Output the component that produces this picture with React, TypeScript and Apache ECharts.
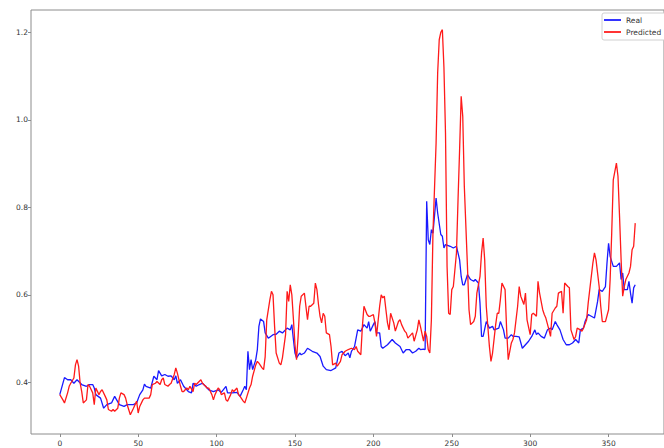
import React, { useEffect, useRef } from "react";
import * as echarts from "echarts";

const realIdx = [0,3,5,7,9,11,14,17,19,21,22,23,26,28,30,33,35,38,41,43,47,49,51,53,54,55,58,60,62,63,65,67,69,71,73,74,75,77,79,82,84,85,87,89,91,93,95,98,101,103,106,107,110,113,115,117,118,119,120,121,122,123,125,126,127,128,130,131,133,136,138,140,142,145,147,148,149,150,151,153,154,156,158,161,164,166,168,170,173,176,178,180,182,184,185,186,188,190,192,194,196,197,198,200,201,202,204,205,206,209,212,214,217,219,221,223,225,227,229,230,232,233,234,235,236,237,238,240,241,243,244,245,246,249,251,253,255,256,257,258,260,262,264,265,267,268,269,270,272,274,276,277,280,281,283,284,286,288,289,291,293,295,297,299,301,303,304,305,307,309,311,313,314,316,317,319,320,321,323,325,327,329,331,332,334,335,337,339,341,343,344,346,348,349,350,351,353,355,357,358,359,360,362,363,364,365,366,367];
const realVal = [0.372,0.411,0.406,0.406,0.398,0.406,0.395,0.391,0.395,0.395,0.387,0.372,0.364,0.341,0.349,0.353,0.368,0.349,0.345,0.349,0.349,0.353,0.372,0.383,0.396,0.391,0.387,0.414,0.406,0.427,0.415,0.418,0.414,0.415,0.406,0.415,0.398,0.406,0.391,0.379,0.376,0.398,0.391,0.395,0.398,0.391,0.383,0.379,0.383,0.377,0.391,0.376,0.376,0.377,0.368,0.383,0.391,0.383,0.471,0.429,0.452,0.429,0.452,0.475,0.528,0.545,0.539,0.513,0.501,0.509,0.510,0.517,0.513,0.524,0.520,0.532,0.498,0.467,0.456,0.467,0.463,0.467,0.478,0.471,0.467,0.459,0.437,0.429,0.427,0.433,0.467,0.471,0.461,0.467,0.456,0.471,0.482,0.520,0.517,0.532,0.524,0.539,0.517,0.532,0.539,0.513,0.513,0.482,0.478,0.486,0.498,0.490,0.482,0.467,0.475,0.475,0.467,0.471,0.478,0.475,0.476,0.475,0.814,0.726,0.715,0.749,0.741,0.821,0.787,0.738,0.734,0.707,0.715,0.711,0.707,0.711,0.680,0.642,0.623,0.623,0.646,0.635,0.631,0.635,0.627,0.581,0.505,0.505,0.539,0.524,0.528,0.520,0.524,0.539,0.520,0.501,0.501,0.509,0.505,0.505,0.504,0.478,0.486,0.494,0.505,0.520,0.509,0.513,0.505,0.501,0.520,0.524,0.520,0.539,0.532,0.520,0.509,0.498,0.486,0.486,0.490,0.498,0.490,0.520,0.524,0.539,0.555,0.551,0.547,0.585,0.612,0.608,0.619,0.673,0.718,0.688,0.665,0.665,0.673,0.635,0.650,0.612,0.612,0.631,0.604,0.581,0.616,0.623];

const predIdx = [0,2,3,5,6,7,9,10,11,12,13,14,15,17,18,19,21,22,23,25,26,27,29,30,31,33,34,35,37,38,39,41,42,43,45,47,49,50,51,53,54,57,58,59,61,62,64,65,66,67,69,70,71,73,74,75,77,78,79,81,82,83,85,86,87,90,91,93,94,95,97,98,99,101,102,103,105,106,107,109,110,111,113,114,115,117,118,119,121,122,123,125,126,127,129,130,131,132,134,135,136,137,138,140,141,142,144,145,146,147,148,149,150,151,152,153,154,156,158,159,160,162,163,164,165,166,167,168,169,170,172,173,174,176,177,179,180,182,184,186,188,189,190,192,193,194,196,197,198,200,201,202,204,205,206,207,208,209,210,211,213,214,216,217,218,220,221,222,224,225,226,228,229,230,232,233,234,235,236,237,238,240,241,242,243,244,245,246,247,248,249,250,251,253,254,255,256,257,258,260,261,262,264,265,266,268,269,270,271,272,274,275,276,278,279,280,281,282,284,285,286,288,289,290,292,293,294,296,297,298,300,301,302,304,305,306,308,309,310,312,313,314,316,317,318,320,321,322,324,325,326,328,329,330,332,333,334,336,337,338,340,341,342,344,345,346,348,350,351,352,353,355,356,357,358,359,360,361,363,364,365,366,367];
const predVal = [0.372,0.360,0.353,0.376,0.391,0.398,0.410,0.440,0.452,0.437,0.398,0.379,0.353,0.360,0.395,0.391,0.376,0.349,0.387,0.372,0.379,0.383,0.368,0.360,0.338,0.334,0.338,0.334,0.341,0.364,0.376,0.372,0.364,0.349,0.326,0.341,0.357,0.330,0.345,0.360,0.364,0.364,0.372,0.395,0.398,0.402,0.395,0.406,0.410,0.395,0.391,0.395,0.398,0.418,0.433,0.421,0.391,0.379,0.379,0.387,0.383,0.391,0.379,0.398,0.395,0.406,0.398,0.391,0.387,0.387,0.372,0.360,0.372,0.387,0.383,0.372,0.376,0.360,0.357,0.372,0.383,0.379,0.387,0.372,0.368,0.357,0.353,0.364,0.387,0.395,0.414,0.440,0.448,0.444,0.433,0.429,0.459,0.543,0.589,0.608,0.600,0.528,0.467,0.444,0.440,0.456,0.509,0.608,0.585,0.623,0.600,0.545,0.486,0.452,0.505,0.574,0.597,0.604,0.543,0.574,0.574,0.581,0.627,0.612,0.578,0.551,0.536,0.558,0.551,0.513,0.509,0.482,0.440,0.444,0.437,0.448,0.463,0.471,0.475,0.478,0.475,0.482,0.471,0.463,0.528,0.574,0.555,0.551,0.551,0.555,0.536,0.505,0.574,0.600,0.593,0.597,0.566,0.536,0.520,0.558,0.536,0.517,0.539,0.543,0.532,0.517,0.513,0.501,0.509,0.513,0.494,0.520,0.543,0.528,0.494,0.517,0.505,0.475,0.467,0.543,0.741,0.947,1.107,1.183,1.200,1.206,1.120,0.970,0.665,0.558,0.555,0.612,0.619,0.696,0.818,0.932,1.054,1.008,0.848,0.665,0.566,0.532,0.539,0.551,0.604,0.642,0.696,0.730,0.680,0.574,0.482,0.448,0.467,0.532,0.558,0.558,0.589,0.627,0.612,0.520,0.452,0.490,0.498,0.513,0.574,0.619,0.597,0.578,0.604,0.543,0.509,0.555,0.558,0.551,0.631,0.604,0.566,0.555,0.547,0.520,0.505,0.558,0.570,0.574,0.604,0.608,0.558,0.627,0.619,0.616,0.520,0.498,0.505,0.524,0.520,0.517,0.524,0.543,0.581,0.612,0.673,0.696,0.680,0.619,0.574,0.539,0.539,0.566,0.635,0.741,0.863,0.901,0.871,0.779,0.680,0.597,0.619,0.635,0.650,0.665,0.703,0.711,0.764];

const xTicks = [0, 50, 100, 150, 200, 250, 300, 350];
const yTicks = [0.4, 0.6, 0.8, 1.0, 1.2];
const seriesNames = ["Real", "Predicted"];

export default function App() {
  const ref = useRef<HTMLDivElement>(null);
  useEffect(() => {
    if (!ref.current) return;
    const chart = echarts.init(ref.current, undefined, { renderer: "svg" });
    const font = "DejaVu Sans";
    const realData = realIdx.map((x, k) => [x, realVal[k]]);
    const predData = predIdx.map((x, k) => [x, predVal[k]]);
    chart.setOption({
      animation: false,
      backgroundColor: "#ffffff",
      grid: {
        left: 31,
        top: 10,
        width: 640,
        height: 424,
        show: true,
        borderColor: "#8c8c8c",
        borderWidth: 1,
        backgroundColor: "transparent",
      },
      legend: {
        data: seriesNames,
        orient: "vertical",
        left: 602,
        top: 13,
        icon: "rect",
        itemWidth: 17,
        itemHeight: 1.6,
        itemGap: 4,
        padding: [3, 4, 4, 2],
        borderColor: "#d0d0d0",
        borderWidth: 1,
        borderRadius: 2,
        backgroundColor: "#ffffff",
        textStyle: { fontFamily: font, fontSize: 7.5, color: "#333", lineHeight: 8, padding: [0, 0, 0, 0] },
      },
      xAxis: {
        type: "value",
        min: -18.35,
        max: 385.35,
        position: "bottom",
        splitLine: { show: false },
        axisLine: { show: false, onZero: false },
        axisTick: { show: true, length: 3, lineStyle: { color: "#8c8c8c" }, customValues: xTicks },
        axisLabel: {
          customValues: xTicks,
          margin: 5,
          fontFamily: font,
          fontSize: 7.5,
          color: "#333",
          formatter: (v: number) => String(v),
        },
      },
      yAxis: {
        type: "value",
        min: 0.282,
        max: 1.251,
        position: "left",
        splitLine: { show: false },
        axisLine: { show: false, onZero: false },
        axisTick: { show: true, length: 3, lineStyle: { color: "#8c8c8c" }, customValues: yTicks },
        axisLabel: {
          customValues: yTicks,
          margin: 3,
          fontFamily: font,
          fontSize: 7.5,
          color: "#333",
          formatter: (v: number) => v.toFixed(1),
        },
      },
      series: [
        {
          name: seriesNames[0],
          type: "line",
          data: realData,
          showSymbol: false,
          symbol: "none",
          color: "#0000ff",
          lineStyle: { width: 1.3, color: "#1a1aff" },
        },
        {
          name: seriesNames[1],
          type: "line",
          data: predData,
          showSymbol: false,
          symbol: "none",
          color: "#ff0000",
          lineStyle: { width: 1.3, color: "#ff1a1a" },
        },
      ],
    });
    return () => chart.dispose();
  }, []);
  return (
    <div
      ref={ref}
      style={{ position: "fixed", left: 0, top: 0, width: 664, height: 448, background: "#fff" }}
    />
  );
}
